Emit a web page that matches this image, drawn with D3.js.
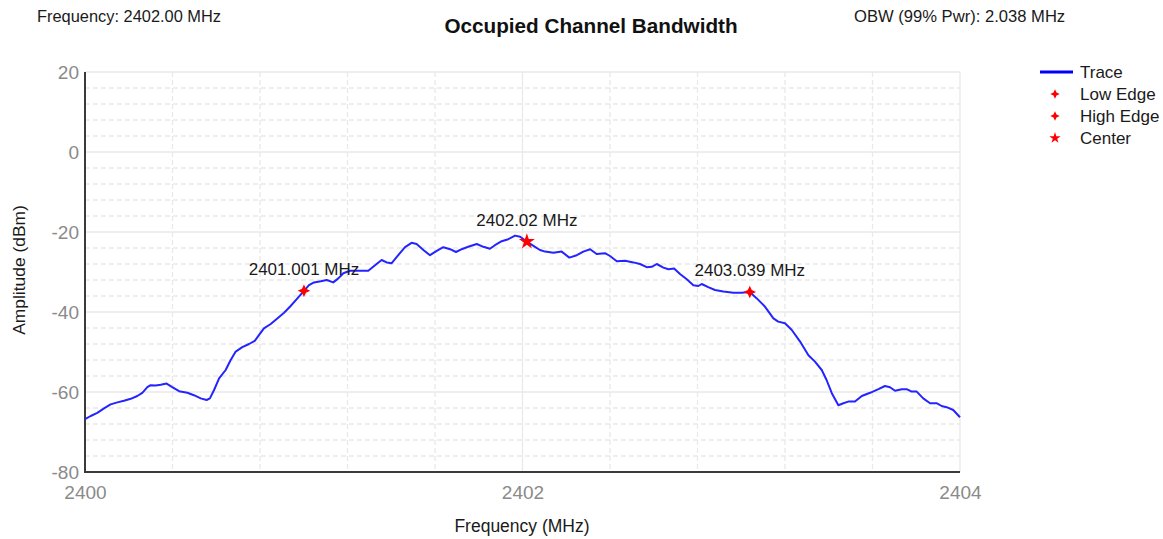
<!DOCTYPE html>
<html>
<head>
<meta charset="utf-8">
<script src="https://cdn.jsdelivr.net/npm/d3@7"></script>
<style>
  html, body { margin: 0; padding: 0; background: #ffffff; }
  svg { display: block; font-family: "Liberation Sans", Arial, sans-serif; }
</style>
</head>
<body>
<svg id="chart" width="1163" height="539"></svg>
<script>
// Spectrum trace (frequency in MHz, amplitude in dBm)
const freqMHz = [
  2400.000, 2400.026, 2400.056, 2400.087, 2400.117, 2400.148, 2400.178, 2400.209, 2400.239, 2400.262,
  2400.285, 2400.300, 2400.323, 2400.346, 2400.373, 2400.399, 2400.430, 2400.468, 2400.498, 2400.529,
  2400.556, 2400.571, 2400.590, 2400.613, 2400.643, 2400.666, 2400.689, 2400.719, 2400.750, 2400.776,
  2400.795, 2400.818, 2400.849, 2400.879, 2400.910, 2400.940, 2400.971, 2401.001, 2401.024, 2401.047,
  2401.078, 2401.105, 2401.135, 2401.158, 2401.181, 2401.211, 2401.242, 2401.295, 2401.326, 2401.356,
  2401.379, 2401.402, 2401.432, 2401.463, 2401.493, 2401.516, 2401.547, 2401.577, 2401.608, 2401.638,
  2401.669, 2401.696, 2401.722, 2401.752, 2401.791, 2401.821, 2401.851, 2401.874, 2401.905, 2401.935,
  2401.966, 2401.989, 2402.020, 2402.057, 2402.080, 2402.103, 2402.141, 2402.179, 2402.214, 2402.248,
  2402.278, 2402.309, 2402.339, 2402.377, 2402.400, 2402.431, 2402.469, 2402.507, 2402.537, 2402.568,
  2402.591, 2402.614, 2402.644, 2402.667, 2402.693, 2402.720, 2402.751, 2402.781, 2402.804, 2402.819,
  2402.849, 2402.880, 2402.918, 2402.964, 2403.002, 2403.039, 2403.071, 2403.109, 2403.147, 2403.169,
  2403.200, 2403.231, 2403.269, 2403.307, 2403.337, 2403.368, 2403.390, 2403.414, 2403.444, 2403.467,
  2403.489, 2403.520, 2403.551, 2403.589, 2403.627, 2403.657, 2403.680, 2403.703, 2403.734, 2403.756,
  2403.779, 2403.802, 2403.832, 2403.863, 2403.893, 2403.916, 2403.939, 2403.969, 2404.000
];
const amplitudeDbm = [
  -66.8, -66.0, -65.2, -64.1, -63.1, -62.6, -62.2, -61.7, -61.0, -60.2,
  -58.8, -58.3, -58.4, -58.2, -57.9, -58.8, -59.8, -60.2, -60.8, -61.6,
  -62.0, -61.6, -59.5, -56.6, -54.5, -52.0, -49.9, -48.8, -48.0, -47.2,
  -45.8, -44.1, -43.0, -41.6, -40.2, -38.5, -36.6, -34.7, -33.3, -32.6,
  -32.3, -32.0, -32.6, -31.6, -30.3, -29.7, -29.7, -29.7, -28.3, -27.0,
  -27.6, -27.8, -25.8, -23.8, -22.7, -23.0, -24.5, -25.8, -24.7, -23.8,
  -24.3, -25.0, -24.3, -23.7, -23.0, -23.7, -24.2, -23.3, -22.3, -21.8,
  -20.9, -21.2, -22.4, -23.7, -24.5, -24.9, -25.2, -24.9, -26.4, -25.8,
  -24.9, -24.3, -25.5, -25.3, -26.0, -27.3, -27.2, -27.6, -28.0, -28.8,
  -28.7, -28.0, -28.9, -29.3, -29.1, -30.5, -31.8, -33.3, -33.5, -33.0,
  -33.8, -34.5, -34.9, -35.2, -35.2, -35.0, -36.6, -38.7, -41.6, -42.4,
  -42.8, -44.5, -47.4, -50.8, -52.4, -54.5, -57.0, -60.3, -63.3, -62.8,
  -62.4, -62.4, -61.0, -60.2, -59.3, -58.5, -58.8, -59.7, -59.3, -59.3,
  -59.9, -59.9, -61.6, -62.8, -62.8, -63.5, -63.8, -64.5, -66.3
];

// Occupied bandwidth markers
const markerNames = ["Low Edge", "High Edge", "Center"];
const markerFreq = [2401.001, 2403.039, 2402.02];
const markerAmp = [-34.7, -35.0, -22.4];

// Axis ticks
const xTicks = [2400, 2402, 2404];
const yTicks = [20, 0, -20, -40, -60, -80];

const centerFreqText = "Frequency: 2402.00 MHz";
const obwText = "OBW (99% Pwr): 2.038 MHz";

const svg = d3.select("#chart");
const plotLeft = 85, plotRight = 960, plotTop = 72, plotBottom = 472;

const x = d3.scaleLinear().domain([2400, 2404]).range([plotLeft, plotRight]);
const y = d3.scaleLinear().domain([-80, 20]).range([plotBottom, plotTop]);

const gridColor = "#e9e9e9";

// Minor grid (dashed)
const minorX = d3.range(1, 10).map(i => 2400 + i * 0.4).filter(v => Math.abs(v - 2402) > 1e-6);
const minorY = d3.range(-80, 21, 4).filter(v => v % 20 !== 0);
svg.append("g").selectAll("line").data(minorX).join("line")
  .attr("x1", d => x(d)).attr("x2", d => x(d))
  .attr("y1", plotTop).attr("y2", plotBottom)
  .attr("stroke", gridColor).attr("stroke-width", 1.3).attr("stroke-dasharray", "5,3");
svg.append("g").selectAll("line").data(minorY).join("line")
  .attr("x1", plotLeft).attr("x2", plotRight)
  .attr("y1", d => y(d)).attr("y2", d => y(d))
  .attr("stroke", gridColor).attr("stroke-width", 1.3).attr("stroke-dasharray", "5,3");

// Major grid (solid)
svg.append("g").selectAll("line").data(xTicks.slice(1)).join("line")
  .attr("x1", d => x(d)).attr("x2", d => x(d))
  .attr("y1", plotTop).attr("y2", plotBottom)
  .attr("stroke", gridColor).attr("stroke-width", 1.3);
svg.append("g").selectAll("line").data(yTicks.slice(0, -1)).join("line")
  .attr("x1", plotLeft).attr("x2", plotRight)
  .attr("y1", d => y(d)).attr("y2", d => y(d))
  .attr("stroke", gridColor).attr("stroke-width", 1.3);

// Axes (plain hyphen for negative labels)
const plainFormat = d => String(d);
const xAxis = svg.append("g").attr("transform", `translate(0,${plotBottom})`)
  .call(d3.axisBottom(x).tickValues(xTicks).tickFormat(plainFormat).tickSize(0).tickPadding(14));
const yAxis = svg.append("g").attr("transform", `translate(${plotLeft},0)`)
  .call(d3.axisLeft(y).tickValues(yTicks).tickFormat(plainFormat).tickSize(0).tickPadding(6));
[xAxis, yAxis].forEach(g => {
  g.select(".domain").attr("stroke", "#3a3a3a").attr("stroke-width", 2);
  g.selectAll(".tick text").attr("fill", "#8a8a8a").style("font-size", "19px")
    .style("font-family", '"Liberation Sans", Arial, sans-serif');
});
xAxis.select(".domain").attr("d", `M${plotLeft - 1},0H${plotRight}`);
yAxis.select(".domain").attr("d", `M0,${plotTop}V${plotBottom + 1}`);

// Trace
const traceData = freqMHz.map((f, i) => [f, amplitudeDbm[i]]);
svg.append("path")
  .datum(traceData)
  .attr("fill", "none")
  .attr("stroke", "#2424ff")
  .attr("stroke-width", 2)
  .attr("stroke-linejoin", "round")
  .attr("d", d3.line().x(d => x(d[0])).y(d => y(d[1])));

// Marker symbols
const fourStar = {
  draw(ctx, size) {
    const r = Math.sqrt(size) * 0.75, w = r * 0.32;
    ctx.moveTo(0, -r); ctx.lineTo(w, -w); ctx.lineTo(r, 0); ctx.lineTo(w, w);
    ctx.lineTo(0, r); ctx.lineTo(-w, w); ctx.lineTo(-r, 0); ctx.lineTo(-w, -w);
    ctx.closePath();
  }
};
const symbolFor = name => name === "Center" ? d3.symbolStar : fourStar;

const markers = markerNames.map((n, i) => ({ name: n, f: markerFreq[i], a: markerAmp[i] }));
const mg = svg.append("g").selectAll("g").data(markers).join("g")
  .attr("transform", d => `translate(${x(d.f)},${y(d.a)})`);
mg.append("path")
  .attr("d", d => d3.symbol(symbolFor(d.name), d.name === "Center" ? 80 : 70)())
  .attr("fill", "#ff0000");
mg.append("text")
  .attr("y", -16)
  .attr("text-anchor", "middle")
  .attr("fill", "#1a1a1a")
  .style("font-size", "17px")
  .text(d => `${d.f} MHz`);

// Header texts
svg.append("text").attr("x", 37).attr("y", 22).attr("fill", "#1a1a1a")
  .style("font-size", "16.4px").text(centerFreqText);
svg.append("text").attr("x", 591).attr("y", 33).attr("text-anchor", "middle").attr("fill", "#111")
  .style("font-size", "20.7px").style("font-weight", "bold").text("Occupied Channel Bandwidth");
svg.append("text").attr("x", 854).attr("y", 22).attr("fill", "#1a1a1a")
  .style("font-size", "16.6px").text(obwText);

// Axis titles
svg.append("text").attr("x", 522).attr("y", 532).attr("text-anchor", "middle").attr("fill", "#1a1a1a")
  .style("font-size", "17.5px").text("Frequency (MHz)");
svg.append("text").attr("transform", "translate(25,270) rotate(-90)").attr("text-anchor", "middle")
  .attr("fill", "#1a1a1a").style("font-size", "17.4px").text("Amplitude (dBm)");

// Legend
const legend = svg.append("g").attr("transform", "translate(1040,72)");
legend.append("line").attr("x1", 0).attr("x2", 33).attr("y1", 0).attr("y2", 0)
  .attr("stroke", "#0000ff").attr("stroke-width", 3);
legend.append("text").attr("x", 40).attr("y", 6).attr("fill", "#1a1a1a")
  .style("font-size", "17px").text("Trace");
const li = legend.selectAll("g.item").data(markerNames).join("g")
  .attr("class", "item")
  .attr("transform", (d, i) => `translate(0,${22 * (i + 1)})`);
li.append("path")
  .attr("transform", "translate(15,0)")
  .attr("d", d => d3.symbol(symbolFor(d), 40)())
  .attr("fill", "#ff0000");
li.append("text").attr("x", 40).attr("y", 6).attr("fill", "#1a1a1a")
  .style("font-size", "17px").text(d => d);
</script>
</body>
</html>
